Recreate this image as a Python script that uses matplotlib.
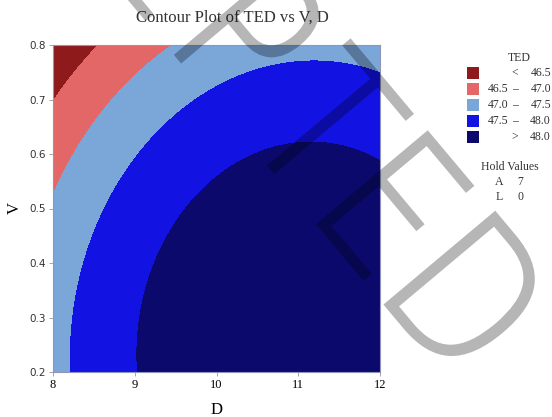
import numpy as np
import matplotlib
matplotlib.use("Agg")
import matplotlib.pyplot as plt
from matplotlib.patches import Rectangle, PathPatch
from matplotlib.textpath import TextPath
from matplotlib.font_manager import FontProperties
from matplotlib.transforms import Affine2D

# fitted response surface for TED (hold values A = 7, L = 0)
TED_PEAK = 48.52
D_CENTER = 11.06
V_CENTER = 0.25
D_CURV = 0.126
V_CURV = 3.77
DV_CROSS = 0.065

D_RANGE = (8, 12)
V_RANGE = (0.2, 0.8)
LEVELS = [46.5, 47.0, 47.5, 48.0]
BAND_COLORS = ["#8e1a1c", "#e46767", "#7aa6d8", "#1212e3", "#0b0a6c"]
BAND_LABELS = [("", "<", "46.5"), ("46.5", "\u2013", "47.0"), ("47.0", "\u2013", "47.5"),
               ("47.5", "\u2013", "48.0"), ("", ">", "48.0")]
HOLD = [("A", "7"), ("L", "0")]
X_TICKS = [8, 9, 10, 11, 12]
Y_TICKS = [0.2, 0.3, 0.4, 0.5, 0.6, 0.7, 0.8]

WATERMARK = "ACCEPTED"

SERIF = "Liberation Serif"
TXT = "#333333"
W, H = 552, 417

d = np.linspace(*D_RANGE, 400)
v = np.linspace(*V_RANGE, 400)
DD, VV = np.meshgrid(d, v)
dx, dy = DD - D_CENTER, VV - V_CENTER
ZZ = TED_PEAK - D_CURV * dx ** 2 - V_CURV * dy ** 2 + DV_CROSS * dx * dy

fig = plt.figure(figsize=(W / 100, H / 100), dpi=100)
ax = fig.add_axes([53 / W, 1 - 372 / H, 327 / W, 327 / H])
ax.contourf(DD, VV, ZZ, levels=[-np.inf] + LEVELS + [np.inf], colors=BAND_COLORS)
ax.set_xlim(*D_RANGE)
ax.set_ylim(*V_RANGE)
ax.set_xticks(X_TICKS)
ax.set_xticklabels([str(t) for t in X_TICKS], fontfamily=SERIF, fontsize=9)
ax.set_yticks(Y_TICKS)
ax.set_yticklabels([f"{t:.1f}" for t in Y_TICKS], fontsize=7.5, color=TXT)
ax.tick_params(length=3, width=0.6, color="#999999", pad=2)
for s in ax.spines.values():
    s.set_color("#8f94bd")
    s.set_linewidth(0.8)
ax.set_xlabel("D", fontfamily=SERIF, fontsize=12, labelpad=8)
ax.set_ylabel("V", fontfamily=SERIF, fontsize=12, labelpad=5)

fig.text(232 / W, 1 - 18 / H, "Contour Plot of TED vs V, D", fontfamily=SERIF,
         fontsize=12, ha="center", va="center", color=TXT)

# legend drawn by hand
kw = dict(fontfamily=SERIF, fontsize=8.5, va="center", color=TXT)
fig.text(519 / W, 1 - 58 / H, "TED", ha="center", **kw)
for i, (col, (lo, sym, hi)) in enumerate(zip(BAND_COLORS, BAND_LABELS)):
    y = 73 + 16 * i
    fig.add_artist(Rectangle((467 / W, 1 - (y + 6) / H), 12 / W, 12 / H,
                             transform=fig.transFigure, color=col, lw=0))
    if lo:
        fig.text(508 / W, 1 - y / H, lo, ha="right", **kw)
    fig.text(515 / W, 1 - y / H, sym, ha="center", **kw)
    fig.text(551 / W, 1 - y / H, hi, ha="right", **kw)

fig.text(510 / W, 1 - 167 / H, "Hold Values", ha="center", **kw)
for i, (name, val) in enumerate(HOLD):
    y = 182 + 15 * i
    fig.text(499 / W, 1 - y / H, name, ha="center", **kw)
    fig.text(520 / W, 1 - y / H, val, ha="center", **kw)

# watermark: letters drawn opaque on a scratch canvas, then laid over as a
# translucent mask so overlapping fill/stroke does not darken
wm_font = FontProperties(family="DejaVu Sans", weight=200)
cap = TextPath((0, 0), "E", size=100, prop=wm_font).get_extents().height / 100
stem = TextPath((0, 0), "I", size=100, prop=wm_font).get_extents().width / 100
band = 13.0          # stroke thickness in px
size = (146 - band) / (cap - stem)
extra = max(band - stem * size, 0)
print(cap, stem, size, extra)

scratch = plt.figure(figsize=(W / 100, H / 100), dpi=100)
ang = np.deg2rad(50)
ux, uy = np.cos(ang), np.sin(ang)
x0, y0 = 176, 55
for ch, off in zip(WATERMARK, [-470, -350, -235, -118, 0, 101, 221, 326]):
    tp = TextPath((0, 0), ch, size=size, prop=wm_font)
    xmin = tp.get_extents().x0
    px, py = x0 + off * ux, y0 + off * uy
    tr = (Affine2D().translate(-xmin, 0).scale(0.86, 1).rotate_deg(-50)
          .translate(px, H - py))
    scratch.add_artist(PathPatch(tp, transform=tr, facecolor="black", edgecolor="black",
                                 lw=extra * 0.72, joinstyle="miter"))
scratch.canvas.draw()
buf = np.asarray(scratch.canvas.buffer_rgba()).astype(float)
plt.close(scratch)
mask = np.zeros((H, W, 4))
mask[..., 3] = 0.29 * (1 - buf[..., 0] / 255)
fig.figimage(mask, xo=0, yo=0, zorder=10)

fig.savefig("out.png", dpi=100)
